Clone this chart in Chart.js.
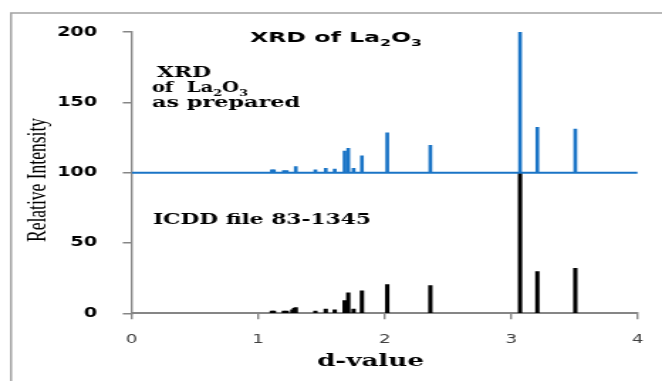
<!DOCTYPE html>
<html>
<head>
<meta charset="utf-8">
<script src="https://cdn.jsdelivr.net/npm/chart.js@4"></script>
<style>
  html, body { margin: 0; padding: 0; background: #fff; overflow: hidden; }
  #wrap { width: 662px; height: 381px; position: relative; }
  /* the source picture is stretched sideways, so draw narrow and widen it */
  #xrdChart { position: absolute; left: 0; top: 0; transform-origin: 0 0; }
</style>
</head>
<body>
<div id="wrap"><canvas id="xrdChart" width="466" height="381"></canvas></div>
<script>
// ---- data ----
const dValues   = [1.108, 1.124, 1.203, 1.226, 1.27, 1.285, 1.297, 1.452, 1.534, 1.605, 1.683, 1.712, 1.754, 1.82, 2.02, 2.361, 3.07, 3.207, 3.507];
const prepared  = [2, 2, 1.5, 1.5, null, null, 4.4, 2, 3, 2.5, 15.4, 17.3, 3, 12, 28.4, 19.5, 100, 32.3, 30.9]; // above the 100 offset
const icdd      = [1.5, 1.5, 1.5, 1.5, 2.5, 3.5, 4, 1.5, 3, 2.5, 9, 14.5, 3, 16, 20.5, 19.7, 100, 29.6, 32];
const offset    = 100;
const xTicks    = [0, 1, 2, 3, 4];
const yTicks    = [0, 50, 100, 150, 200];

const BLUE = '#1a74c6';
const AXIS = '#868686';
const CW = 466;
const S = 662 / CW;   // horizontal stretch

const canvas = document.getElementById('xrdChart');
canvas.style.transform = `scaleX(${S})`;

// draws a run of text pieces (some subscripted) fitted to a width on screen
function drawRich(ctx, segs, xScreen, base, wScreen, size, family, weight, color) {
    ctx.save();
    let total = 0;
    segs.forEach(s => {
        ctx.font = `${weight} ${s.sub ? Math.round(size * 0.68) : size}px ${family}`;
        s.w = ctx.measureText(s.t).width;
        total += s.w;
    });
    const k = (wScreen / S) / total;
    ctx.translate(xScreen / S, base);
    ctx.scale(k, 1);
    ctx.fillStyle = color || '#000';
    ctx.textBaseline = 'alphabetic';
    ctx.textAlign = 'left';
    let x = 0;
    segs.forEach(s => {
        ctx.font = `${weight} ${s.sub ? Math.round(size * 0.68) : size}px ${family}`;
        ctx.fillText(s.t, x, s.sub ? size * 0.28 : 0);
        x += s.w;
    });
    ctx.restore();
}

const decorPlugin = {
    id: 'decor',
    beforeDraw(chart) {
        const ctx = chart.ctx;
        ctx.save();
        ctx.strokeStyle = '#a3a3a3';
        ctx.lineWidth = 1.5;
        ctx.beginPath();
        ctx.moveTo(11 / S, 381);
        ctx.lineTo(11 / S, 13);
        ctx.lineTo(CW, 13);
        ctx.stroke();
        ctx.restore();
    },
    afterDraw(chart) {
        const ctx = chart.ctx;
        const sans = '"DejaVu Sans", Verdana, sans-serif';
        const serif = '"DejaVu Serif", Cambria, serif';

        drawRich(ctx, [{ t: 'XRD of La' }, { t: '2', sub: true }, { t: 'O' }, { t: '3', sub: true }],
            250, 42, 172, 13.5, sans, 'bold');

        drawRich(ctx, [{ t: 'XRD' }], 157, 77, 54, 15, serif, 'bold');
        drawRich(ctx, [{ t: 'of  La' }, { t: '2', sub: true }, { t: 'O' }, { t: '3', sub: true }], 152, 92, 96, 15, serif, 'bold');
        drawRich(ctx, [{ t: 'as prepared' }], 152, 107, 148, 15, serif, 'bold');

        drawRich(ctx, [{ t: 'ICDD file 83-1345' }], 153, 224, 218, 15, serif, 'bold');

        drawRich(ctx, [{ t: 'd-value' }], 317, 366, 107, 16, serif, 'bold');

        // y title, condensed along its length
        ctx.save();
        ctx.font = '19px "Liberation Serif", "Times New Roman", serif';
        const w = ctx.measureText('Relative Intensity').width;
        ctx.translate(45 / S, 180);
        ctx.rotate(-Math.PI / 2);
        ctx.scale(124 / w, 1);
        ctx.fillStyle = '#000';
        ctx.textAlign = 'center';
        ctx.textBaseline = 'alphabetic';
        ctx.fillText('Relative Intensity', 0, 0);
        ctx.restore();
    }
};

const preparedPoints = [];
dValues.forEach((d, i) => {
    if (prepared[i] !== null) preparedPoints.push({ x: d, y: [offset, offset + prepared[i]] });
});
const icddPoints = dValues.map((d, i) => ({ x: d, y: icdd[i] }));

new Chart(canvas, {
    type: 'bar',
    data: {
        datasets: [
            {
                type: 'line',
                data: [{ x: xTicks[0], y: offset }, { x: xTicks[xTicks.length - 1], y: offset }],
                borderColor: BLUE, borderWidth: 2, pointRadius: 0, order: 0,
            },
            {
                label: 'XRD of La2O3 as prepared',
                data: preparedPoints,
                backgroundColor: BLUE, barThickness: 2, grouped: false, order: 1,
            },
            {
                label: 'ICDD file 83-1345',
                data: icddPoints,
                backgroundColor: '#000', barThickness: 2.4, grouped: false, order: 2,
            },
        ]
    },
    options: {
        responsive: false,
        animation: false,
        devicePixelRatio: 1,
        layout: { padding: { left: 0, top: 32, right: CW - 639 / S, bottom: 0 } },
        plugins: { legend: { display: false }, tooltip: { enabled: false } },
        scales: {
            x: {
                type: 'linear', min: 0, max: 4, offset: false,
                afterBuildTicks: s => { s.ticks = xTicks.map(v => ({ value: v })); },
                afterFit: s => { s.height = 381 - 313.3; },
                grid: { display: true, drawOnChartArea: false, offset: false, tickLength: 6, color: AXIS, lineWidth: 1.4 },
                border: { display: true, color: AXIS, width: 2 },
                ticks: { padding: 13, color: '#404040', font: { family: '"DejaVu Sans", Verdana, sans-serif', size: 13 } },
            },
            y: {
                min: 0, max: 200,
                afterBuildTicks: s => { s.ticks = yTicks.map(v => ({ value: v })); },
                afterFit: s => { s.width = 131.7 / S; },
                grid: { display: true, drawOnChartArea: false, tickLength: 6.3, color: AXIS, lineWidth: 1.5 },
                border: { display: true, color: AXIS, width: 1.4 },
                ticks: { padding: 18, color: '#000', font: { family: '"DejaVu Sans", Verdana, sans-serif', size: 13.5, weight: 'bold' } },
            }
        }
    },
    plugins: [decorPlugin]
});
</script>
</body>
</html>
